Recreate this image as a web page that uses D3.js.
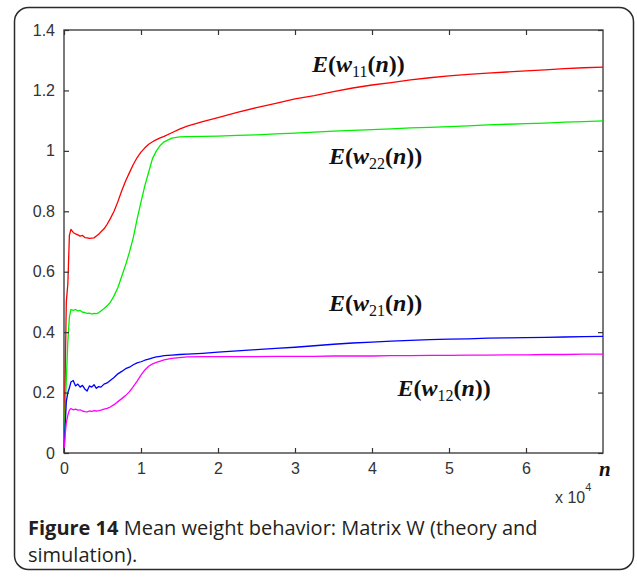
<!DOCTYPE html>
<html>
<head>
<meta charset="utf-8">
<script src="https://cdn.jsdelivr.net/npm/d3@7/dist/d3.min.js"></script>
<style>
  html, body { margin: 0; padding: 0; background: #fff; }
  svg { display: block; }
</style>
</head>
<body>
<svg id="chart" width="637" height="577"></svg>
<script>
// Iteration index n (samples)
const steps = [0, 150, 300, 500, 700, 900, 1200, 1500, 1800, 2100, 2400, 2700, 3000, 3300, 3600, 3900,
  4200, 4500, 4800, 5200, 5600, 6000, 6500, 7000, 7500, 8000, 8500, 9000, 9500, 10000, 10500, 11000,
  11500, 12000, 12500, 13000, 14000, 15000, 16000, 18000, 20000, 22500, 25000, 27500, 30000, 32500,
  35000, 37500, 40000, 42500, 45000, 47500, 50000, 52500, 55000, 57500, 60000, 62500, 65000, 67500, 70000];

// Mean weights E(w_ij(n))
const w11 = [0, 0.25, 0.5, 0.56, 0.72, 0.74, 0.73, 0.725, 0.722, 0.718, 0.72, 0.713, 0.712, 0.71, 0.711, 0.712,
  0.718, 0.724, 0.732, 0.742, 0.757, 0.775, 0.8, 0.832, 0.868, 0.9, 0.928, 0.955, 0.978, 0.996, 1.01, 1.022,
  1.03, 1.037, 1.043, 1.048, 1.06, 1.072, 1.082, 1.097, 1.11, 1.127, 1.143, 1.157, 1.172, 1.183,
  1.196, 1.208, 1.218, 1.226, 1.235, 1.242, 1.248, 1.253, 1.257, 1.261, 1.265, 1.268, 1.272, 1.275, 1.277];

const w22 = [0, 0.15, 0.24, 0.37, 0.45, 0.475, 0.472, 0.475, 0.47, 0.472, 0.466, 0.465, 0.462, 0.463, 0.46, 0.462,
  0.461, 0.464, 0.47, 0.478, 0.487, 0.498, 0.52, 0.548, 0.585, 0.622, 0.665, 0.713, 0.775, 0.83, 0.885, 0.93,
  0.975, 1.0, 1.018, 1.03, 1.042, 1.046, 1.047, 1.048, 1.049, 1.051, 1.053, 1.056, 1.059, 1.062,
  1.065, 1.068, 1.07, 1.073, 1.076, 1.078, 1.08, 1.083, 1.086, 1.088, 1.09, 1.092, 1.095, 1.097, 1.099];

const w21 = [0, 0.09, 0.17, 0.2, 0.215, 0.235, 0.24, 0.222, 0.228, 0.218, 0.224, 0.212, 0.205, 0.222, 0.218, 0.226,
  0.214, 0.22, 0.218, 0.228, 0.232, 0.24, 0.25, 0.262, 0.27, 0.279, 0.284, 0.292, 0.298, 0.302, 0.307, 0.311,
  0.315, 0.318, 0.32, 0.322, 0.324, 0.326, 0.327, 0.33, 0.334, 0.338, 0.342, 0.346, 0.35, 0.355,
  0.36, 0.364, 0.367, 0.37, 0.373, 0.375, 0.377, 0.378, 0.38, 0.381, 0.382, 0.383, 0.384, 0.385, 0.386];

const w12 = [0, 0.06, 0.1, 0.125, 0.142, 0.147, 0.143, 0.145, 0.142, 0.143, 0.139, 0.137, 0.136, 0.139, 0.138, 0.14,
  0.139, 0.14, 0.142, 0.145, 0.148, 0.152, 0.16, 0.17, 0.18, 0.19, 0.203, 0.22, 0.238, 0.258, 0.275, 0.287,
  0.295, 0.3, 0.304, 0.308, 0.313, 0.316, 0.318, 0.319, 0.319, 0.319, 0.319, 0.32, 0.32, 0.32,
  0.321, 0.321, 0.321, 0.322, 0.322, 0.323, 0.323, 0.324, 0.324, 0.325, 0.325, 0.326, 0.326, 0.327, 0.327];

const xTicks = [0, 10000, 20000, 30000, 40000, 50000, 60000];
const yTicks = [0, 0.2, 0.4, 0.6, 0.8, 1, 1.2, 1.4];

const seriesList = [
  { name: "w11", values: w11, color: "#ff0000" },
  { name: "w22", values: w22, color: "#00ee00" },
  { name: "w21", values: w21, color: "#0000ff" },
  { name: "w12", values: w12, color: "#ff00ff" }
];

// Curve labels: subscript and anchor point in data units
const curveLabels = [
  { sub: "11", n: 32200, v: 1.26 },
  { sub: "22", n: 34400, v: 0.955 },
  { sub: "21", n: 34400, v: 0.47 },
  { sub: "12", n: 43300, v: 0.19 }
];

const svg = d3.select("#chart");

// Rounded frame around figure and caption
svg.append("rect")
  .attr("x", 14.5).attr("y", 7.5)
  .attr("width", 619).attr("height", 562)
  .attr("rx", 14).attr("ry", 14)
  .attr("fill", "none").attr("stroke", "#2b2b2b").attr("stroke-width", 1.5);

const x = d3.scaleLinear().domain([0, 70000]).range([64, 603]);
const y = d3.scaleLinear().domain([0, 1.4]).range([453, 30]);

const axisColor = "#333";
const tickFont = "'Liberation Sans', Arial, sans-serif";

// Plot box
svg.append("rect")
  .attr("x", x(0)).attr("y", y(1.4))
  .attr("width", x(70000) - x(0)).attr("height", y(0) - y(1.4))
  .attr("fill", "#fff").attr("stroke", axisColor).attr("stroke-width", 1.3);

// Lines
const line = d3.line()
  .x((d, i) => x(steps[i]))
  .y(d => y(d));

const plot = svg.append("g");
seriesList.forEach(s => {
  plot.append("path")
    .datum(s.values)
    .attr("d", line)
    .attr("fill", "none")
    .attr("stroke", s.color)
    .attr("stroke-width", 1.3)
    .attr("stroke-linejoin", "round");
});

// Axes with inward ticks on all four sides
function styleAxis(g) {
  g.select(".domain").remove();
  g.selectAll(".tick line").attr("stroke", axisColor).attr("stroke-width", 1.2);
  g.selectAll(".tick text")
    .attr("fill", "#333")
    .attr("font-family", tickFont)
    .attr("font-size", 16);
}

svg.append("g")
  .attr("transform", `translate(0,${y(0)})`)
  .call(d3.axisBottom(x).tickValues(xTicks).tickSizeInner(-5).tickSizeOuter(0)
    .tickPadding(10).tickFormat(d => d / 10000))
  .call(styleAxis);

svg.append("g")
  .attr("transform", `translate(0,${y(1.4)})`)
  .call(d3.axisTop(x).tickValues(xTicks).tickSizeInner(-5).tickSizeOuter(0).tickFormat(""))
  .call(styleAxis);

svg.append("g")
  .attr("transform", `translate(${x(0)},0)`)
  .call(d3.axisLeft(y).tickValues(yTicks).tickSizeInner(-5).tickSizeOuter(0)
    .tickPadding(9).tickFormat(d3.format("~g")))
  .call(styleAxis);

svg.append("g")
  .attr("transform", `translate(${x(70000)},0)`)
  .call(d3.axisRight(y).tickValues(yTicks).tickSizeInner(-5).tickSizeOuter(0).tickFormat(""))
  .call(styleAxis);

// Axis variable and exponent
svg.append("text")
  .attr("x", 599).attr("y", 476)
  .attr("font-family", "'Liberation Serif', 'Times New Roman', serif")
  .attr("font-weight", "bold").attr("font-style", "italic")
  .attr("font-size", 21).attr("fill", "#111")
  .text("n");

const expo = svg.append("text")
  .attr("x", 555).attr("y", 503)
  .attr("font-family", tickFont).attr("font-size", 16).attr("fill", "#333");
expo.append("tspan").text("x 10");
expo.append("tspan").attr("dy", -12).attr("font-size", 11).text("4");

// Curve labels E(w_ij(n))
const serif = "'Liberation Serif', 'Times New Roman', serif";
curveLabels.forEach(l => {
  const t = svg.append("text")
    .attr("x", x(l.n)).attr("y", y(l.v))
    .attr("font-family", serif).attr("font-size", 24)
    .attr("font-weight", "bold").attr("fill", "#111");
  t.append("tspan").attr("font-style", "italic").text("E");
  t.append("tspan").text("(");
  t.append("tspan").attr("font-style", "italic").text("w");
  t.append("tspan").attr("font-weight", "normal").attr("font-size", 16).attr("dy", 5).text(l.sub);
  t.append("tspan").attr("dy", -5).text("(");
  t.append("tspan").attr("font-style", "italic").text("n");
  t.append("tspan").text("))");
});

// Caption
const capFont = "'Open Sans', 'Noto Sans', sans-serif";
const cap1 = svg.append("text")
  .attr("x", 28).attr("y", 535)
  .attr("font-family", capFont).attr("font-size", 20).attr("fill", "#231f20");
cap1.append("tspan").attr("font-weight", "bold").text("Figure 14");
cap1.append("tspan").attr("font-weight", 500).text(" Mean weight behavior: Matrix W (theory and");

svg.append("text")
  .attr("x", 28).attr("y", 562)
  .attr("font-family", capFont).attr("font-size", 20).attr("font-weight", 500).attr("fill", "#231f20")
  .text("simulation).");
</script>
</body>
</html>
